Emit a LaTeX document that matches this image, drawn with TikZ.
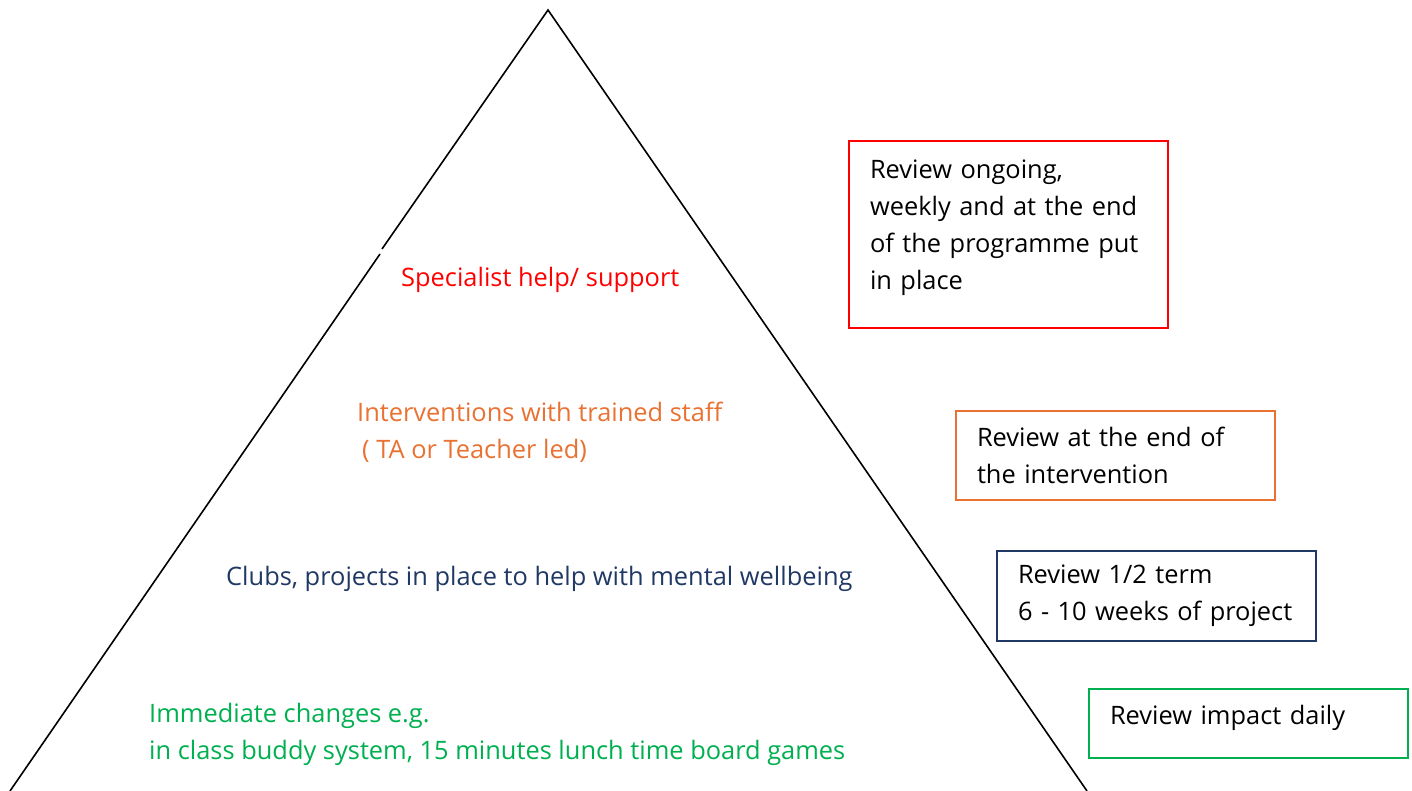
\documentclass[tikz,border=0pt]{standalone}
\usepackage{fontspec}
\setmainfont{Open Sans}
\usepackage{tikz}

\definecolor{tierred}{HTML}{FF0000}
\definecolor{tierorange}{HTML}{E97132}
\definecolor{tiernavy}{HTML}{1F3864}
\definecolor{tiergreen}{HTML}{00B050}

\begin{document}
\begin{tikzpicture}[x=1pt, y=-1pt,
		every node/.style={inner sep=0pt, font=\fontsize{25.4}{37}\selectfont},
		tier/.style={anchor=west, align=left},
		revbox/.style={draw=#1, line width=2pt, anchor=north west, align=left,
			text width=277pt, inner xsep=21pt, inner ysep=0pt}]
			\useasboundingbox (0,0) rectangle (1412,791);
			
			% Draw pyramid (left edge has a small break)
			\coordinate (top) at (548,10);
			\coordinate (bl) at (10,791);
			\coordinate (br) at (1087,791);
			\coordinate (gapA) at (382,249);
			\coordinate (gapB) at (380,254);
			\draw[line width=1.6pt] (gapA) -- (top) -- (br);
			\draw[line width=1.6pt] (gapB) -- (bl);
			
			% Tiers inside the pyramid
			\node[tier, text=tierred] (specialist) at (401,280) {Specialist help/ support};
			\node[tier, text=tierorange] (interv) at (357,432.5) {Interventions with trained staff\\\hspace{5pt}( TA or Teacher led)};
			\node[tier, text=tiernavy] (clubs) at (226,579) {Clubs, projects in place to help with mental wellbeing};
			\node[tier, text=tiergreen] (immediate) at (149,734.5) {Immediate changes e.g.\\in class buddy system, 15 minutes lunch time board games};
			
			% Review boxes on the right
			\node[revbox=tierred, minimum height=187pt, text depth=130pt] (revspec) at (848,140) {Review ongoing,\\weekly and at the end\\of the programme put\\in place};
			\node[revbox=tierorange, minimum height=89pt] (revinterv) at (955,410) {Review at the end of\\the intervention};
			\node[revbox=tiernavy, minimum height=90pt] (revclubs) at (996,550) {Review 1/2 term\\6 - 10 weeks of project};
			\node[revbox=tiergreen, minimum height=69pt, text depth=17pt] (revimm) at (1088,688) {Review impact daily};
	\end{tikzpicture}
\end{document}
